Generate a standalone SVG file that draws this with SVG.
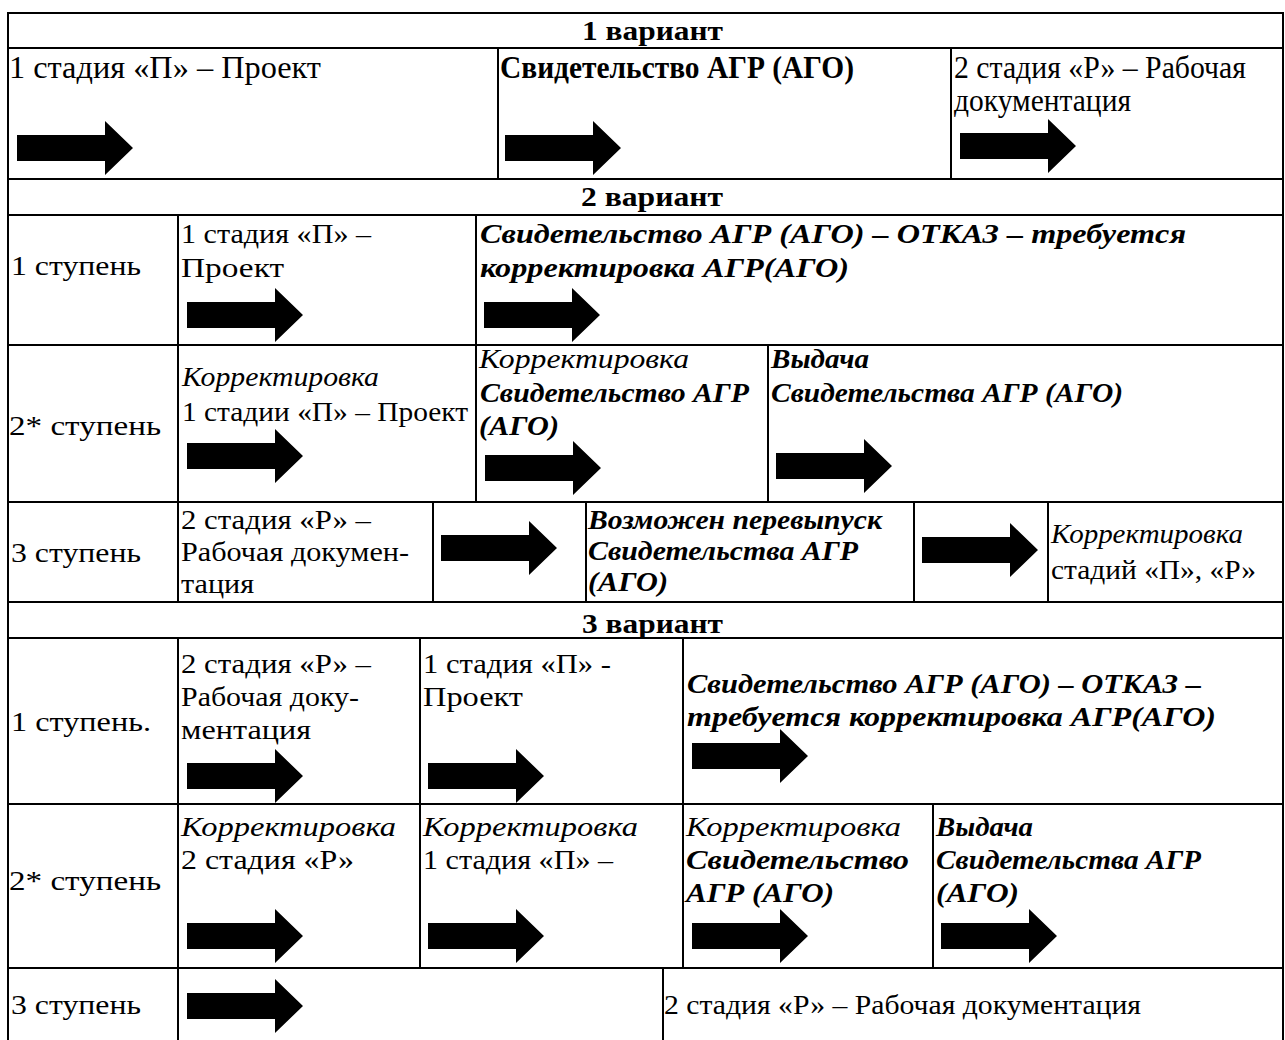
<svg xmlns="http://www.w3.org/2000/svg" xmlns:xlink="http://www.w3.org/1999/xlink" width="1285" height="1040" viewBox="0 0 1285 1040">
<style>
text{font-family:"Liberation Serif","Times New Roman",serif;font-size:28px;fill:#000}
.b{font-weight:bold}
.i{font-style:italic}
.bi{font-weight:bold;font-style:italic}
.L{font-size:31px}
.S{font-size:27px}
.g line{stroke:#000;stroke-width:2}
</style>
<defs>
<path id="arr" d="M0,-13H88V-27L116,0L88,27V13H0Z" fill="#000"/>
</defs>
<rect width="1285" height="1040" fill="#fff"/>
<g id="grid" class="g">
<line x1="8" y1="13" x2="1284" y2="13"/>
<line x1="8" y1="48" x2="1284" y2="48"/>
<line x1="8" y1="179" x2="1284" y2="179"/>
<line x1="8" y1="215" x2="1284" y2="215"/>
<line x1="8" y1="345" x2="1284" y2="345"/>
<line x1="8" y1="502" x2="1284" y2="502"/>
<line x1="8" y1="602" x2="1284" y2="602"/>
<line x1="8" y1="638" x2="1284" y2="638"/>
<line x1="8" y1="804" x2="1284" y2="804"/>
<line x1="8" y1="968" x2="1284" y2="968"/>
<line x1="8" y1="12" x2="8" y2="1040"/>
<line x1="1283" y1="12" x2="1283" y2="1040"/>
<line x1="498" y1="48" x2="498" y2="179"/>
<line x1="951" y1="48" x2="951" y2="179"/>
<line x1="178" y1="215" x2="178" y2="502"/>
<line x1="476" y1="215" x2="476" y2="502"/>
<line x1="768" y1="345" x2="768" y2="502"/>
<line x1="178" y1="502" x2="178" y2="602"/>
<line x1="433" y1="502" x2="433" y2="602"/>
<line x1="586" y1="502" x2="586" y2="602"/>
<line x1="914" y1="502" x2="914" y2="602"/>
<line x1="1048" y1="502" x2="1048" y2="602"/>
<line x1="178" y1="638" x2="178" y2="1040"/>
<line x1="420" y1="638" x2="420" y2="968"/>
<line x1="683" y1="638" x2="683" y2="968"/>
<line x1="933" y1="804" x2="933" y2="968"/>
<line x1="663" y1="968" x2="663" y2="1040"/>
</g>
<g id="h1"><text class="b" x="582" y="40" textLength="141" lengthAdjust="spacingAndGlyphs">1 вариант</text></g>
<g id="v1a"><text class="L" x="9" y="78" textLength="312" lengthAdjust="spacingAndGlyphs">1 стадия «П» – Проект</text><use xlink:href="#arr" x="17" y="148"/></g>
<g id="v1b"><text class="b L" x="500" y="78" textLength="354" lengthAdjust="spacingAndGlyphs">Свидетельство АГР (АГО)</text><use xlink:href="#arr" x="505" y="148"/></g>
<g id="v1c"><text class="L" x="954" y="78" textLength="292" lengthAdjust="spacingAndGlyphs">2 стадия «Р» – Рабочая</text><text class="L" x="954" y="111" textLength="177" lengthAdjust="spacingAndGlyphs">документация</text><use xlink:href="#arr" x="960" y="146"/></g>
<g id="h2"><text class="b" x="581" y="206" textLength="142" lengthAdjust="spacingAndGlyphs">2 вариант</text></g>
<g id="v2s1"><text x="11" y="275" textLength="130" lengthAdjust="spacingAndGlyphs">1 ступень</text></g>
<g id="v2s1a"><text x="181" y="243" textLength="190" lengthAdjust="spacingAndGlyphs">1 стадия «П» –</text><text x="181" y="277" textLength="103" lengthAdjust="spacingAndGlyphs">Проект</text><use xlink:href="#arr" x="187" y="315"/></g>
<g id="v2s1b"><text class="bi" x="480" y="243" textLength="706" lengthAdjust="spacingAndGlyphs">Свидетельство АГР (АГО) – ОТКАЗ – требуется</text><text class="bi" x="480" y="277" textLength="369" lengthAdjust="spacingAndGlyphs">корректировка АГР(АГО)</text><use xlink:href="#arr" x="484" y="315"/></g>
<g id="v2s2"><text x="9" y="435" textLength="152" lengthAdjust="spacingAndGlyphs">2* ступень</text></g>
<g id="v2s2a"><text class="i" x="182" y="386" textLength="197" lengthAdjust="spacingAndGlyphs">Корректировка</text><text x="182" y="421" textLength="286" lengthAdjust="spacingAndGlyphs">1 стадии «П» – Проект</text><use xlink:href="#arr" x="187" y="456"/></g>
<g id="v2s2b"><text class="i" x="479" y="368" textLength="210" lengthAdjust="spacingAndGlyphs">Корректировка</text><text class="bi" x="480" y="402" textLength="269" lengthAdjust="spacingAndGlyphs">Свидетельство АГР</text><text class="bi" x="479" y="435" textLength="80" lengthAdjust="spacingAndGlyphs">(АГО)</text><use xlink:href="#arr" x="485" y="468"/></g>
<g id="v2s2c"><text class="bi" x="771" y="368" textLength="98" lengthAdjust="spacingAndGlyphs">Выдача</text><text class="bi" x="771" y="402" textLength="352" lengthAdjust="spacingAndGlyphs">Свидетельства АГР (АГО)</text><use xlink:href="#arr" x="776" y="466"/></g>
<g id="v2s3"><text x="11" y="562" textLength="130" lengthAdjust="spacingAndGlyphs">3 ступень</text></g>
<g id="v2s3a"><text x="181" y="529" textLength="190" lengthAdjust="spacingAndGlyphs">2 стадия «Р» –</text><text x="181" y="561" textLength="228" lengthAdjust="spacingAndGlyphs">Рабочая докумен-</text><text x="181" y="593" textLength="73" lengthAdjust="spacingAndGlyphs">тация</text></g>
<g id="v2s3b"><use xlink:href="#arr" x="441" y="548"/></g>
<g id="v2s3c"><text class="bi" x="588" y="529" textLength="294" lengthAdjust="spacingAndGlyphs">Возможен перевыпуск</text><text class="bi" x="588" y="560" textLength="270" lengthAdjust="spacingAndGlyphs">Свидетельства АГР</text><text class="bi" x="588" y="591" textLength="80" lengthAdjust="spacingAndGlyphs">(АГО)</text></g>
<g id="v2s3d"><use xlink:href="#arr" x="922" y="550"/></g>
<g id="v2s3e"><text class="i S" x="1051" y="543" textLength="192" lengthAdjust="spacingAndGlyphs">Корректировка</text><text class="S" x="1051" y="579" textLength="205" lengthAdjust="spacingAndGlyphs">стадий «П», «Р»</text></g>
<g id="h3"><text class="b" x="582" y="633" textLength="141" lengthAdjust="spacingAndGlyphs">3 вариант</text></g>
<g id="v3s1"><text x="11" y="731" textLength="140" lengthAdjust="spacingAndGlyphs">1 ступень.</text></g>
<g id="v3s1a"><text x="181" y="673" textLength="190" lengthAdjust="spacingAndGlyphs">2 стадия «Р» –</text><text x="181" y="706" textLength="178" lengthAdjust="spacingAndGlyphs">Рабочая доку-</text><text x="181" y="739" textLength="130" lengthAdjust="spacingAndGlyphs">ментация</text><use xlink:href="#arr" x="187" y="776"/></g>
<g id="v3s1b"><text x="423" y="673" textLength="188" lengthAdjust="spacingAndGlyphs">1 стадия «П» -</text><text x="423" y="706" textLength="100" lengthAdjust="spacingAndGlyphs">Проект</text><use xlink:href="#arr" x="428" y="776"/></g>
<g id="v3s1c"><text class="bi" x="687" y="693" textLength="514" lengthAdjust="spacingAndGlyphs">Свидетельство АГР (АГО) – ОТКАЗ –</text><text class="bi" x="687" y="726" textLength="529" lengthAdjust="spacingAndGlyphs">требуется корректировка АГР(АГО)</text><use xlink:href="#arr" x="692" y="756"/></g>
<g id="v3s2"><text x="9" y="890" textLength="152" lengthAdjust="spacingAndGlyphs">2* ступень</text></g>
<g id="v3s2a"><text class="i" x="181" y="836" textLength="215" lengthAdjust="spacingAndGlyphs">Корректировка</text><text x="181" y="869" textLength="173" lengthAdjust="spacingAndGlyphs">2 стадия «Р»</text><use xlink:href="#arr" x="187" y="936"/></g>
<g id="v3s2b"><text class="i" x="423" y="836" textLength="215" lengthAdjust="spacingAndGlyphs">Корректировка</text><text x="423" y="869" textLength="190" lengthAdjust="spacingAndGlyphs">1 стадия «П» –</text><use xlink:href="#arr" x="428" y="936"/></g>
<g id="v3s2c"><text class="i" x="686" y="836" textLength="215" lengthAdjust="spacingAndGlyphs">Корректировка</text><text class="bi" x="686" y="869" textLength="223" lengthAdjust="spacingAndGlyphs">Свидетельство</text><text class="bi" x="686" y="902" textLength="148" lengthAdjust="spacingAndGlyphs">АГР (АГО)</text><use xlink:href="#arr" x="692" y="936"/></g>
<g id="v3s2d"><text class="bi" x="936" y="836" textLength="97" lengthAdjust="spacingAndGlyphs">Выдача</text><text class="bi" x="936" y="869" textLength="265" lengthAdjust="spacingAndGlyphs">Свидетельства АГР</text><text class="bi" x="936" y="902" textLength="83" lengthAdjust="spacingAndGlyphs">(АГО)</text><use xlink:href="#arr" x="941" y="936"/></g>
<g id="v3s3"><text x="11" y="1014" textLength="130" lengthAdjust="spacingAndGlyphs">3 ступень</text></g>
<g id="v3s3a"><use xlink:href="#arr" x="187" y="1006"/></g>
<g id="v3s3b"><text x="664" y="1014" textLength="477" lengthAdjust="spacingAndGlyphs">2 стадия «Р» – Рабочая документация</text></g>
<g id="connectors"></g>
</svg>
